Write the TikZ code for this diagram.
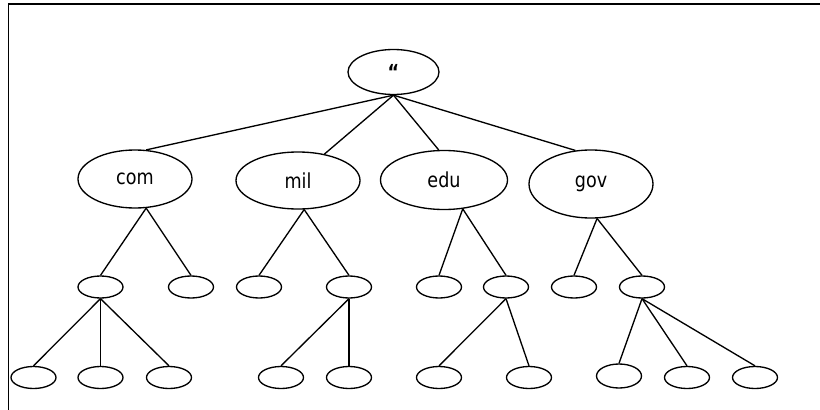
\documentclass[tikz,border=0pt]{standalone}
\usepackage{fontspec}
\setmainfont{DejaVu Sans}
\newfontfamily\lblfont[FakeStretch=0.85]{DejaVu Sans}
\usetikzlibrary{shapes.geometric}
\begin{document}
\begin{tikzpicture}[x=0.75pt,y=-0.75pt,
  oval/.style={draw,ellipse,line width=1pt,inner sep=0pt,font=\lblfont\fontsize{15.5}{17}\selectfont},
  leaf/.style={oval,minimum width=33.75pt,minimum height=16.5pt},
  lnk/.style={line width=1pt}]
\useasboundingbox (0,0) rectangle (820,410);
\draw[line width=1.4pt] (8.5,410) -- (8.5,4) -- (820,4);
% root and level 1
\node[oval,minimum width=68.25pt,minimum height=33.75pt] (root) at (393.5,72) {\raisebox{-4pt}{\bfseries “}};
\node[oval,minimum width=85.5pt,minimum height=43.5pt] (com) at (135,179) {com};
\node[oval,minimum width=93pt,minimum height=42.75pt] (mil) at (298,180.5) {mil};
\node[oval,minimum width=95.25pt,minimum height=44.25pt] (edu) at (444,180) {edu};
\node[oval,minimum width=93pt,minimum height=51pt] (gov) at (591,184) {gov};
% level 2
\node[leaf] (c1) at (100.5,287) {};
\node[leaf] (c2) at (191,287) {};
\node[leaf] (m1) at (259,287) {};
\node[leaf] (m2) at (349,287) {};
\node[leaf] (e1) at (439,287) {};
\node[leaf] (e2) at (506,287) {};
\node[leaf] (g1) at (574,287) {};
\node[leaf] (g2) at (642,287) {};
% level 3
\node[leaf] (c11) at (33.5,377.5) {};
\node[leaf] (c12) at (100.5,377.5) {};
\node[leaf] (c13) at (169,377.5) {};
\node[leaf] (m21) at (281,377.5) {};
\node[leaf] (m22) at (349,377.5) {};
\node[leaf] (e21) at (439,377.5) {};
\node[leaf] (e22) at (529,377.5) {};
\node[leaf,minimum height=18pt] (g21) at (619,376) {};
\node[leaf] (g22) at (687,377.5) {};
\node[leaf] (g23) at (755,377.5) {};
% connectors
\draw[lnk] (root.south) -- (com.69);
\draw[lnk] (root.south) -- (mil.45);
\draw[lnk] (root.south) -- (edu.100);
\draw[lnk] (root.south) -- (gov.115);
\draw[lnk] (com.-69) -- (c1.north);
\draw[lnk] (com.-69) -- (c2.north);
\draw[lnk] (mil.-78) -- (m1.north);
\draw[lnk] (mil.-78) -- (m2.north);
\draw[lnk] (edu.-57) -- (e1.north);
\draw[lnk] (edu.-57) -- (e2.north);
\draw[lnk] (gov.-80) -- (g1.north);
\draw[lnk] (gov.-80) -- (g2.north);
\draw[lnk] (c1.south) -- (c11.north);
\draw[lnk] (c1.south) -- (c12.north);
\draw[lnk] (c1.south) -- (c13.north);
\draw[lnk] (m2.south) -- (m21.north);
\draw[lnk] (m2.south) -- (m22.north);
\draw[lnk] (e2.south) -- (e21.north);
\draw[lnk] (e2.south) -- (e22.north);
\draw[lnk] (g2.south) -- (g21.north);
\draw[lnk] (g2.south) -- (g22.north);
\draw[lnk] (g2.south) -- (g23.north);
\end{tikzpicture}
\end{document}
